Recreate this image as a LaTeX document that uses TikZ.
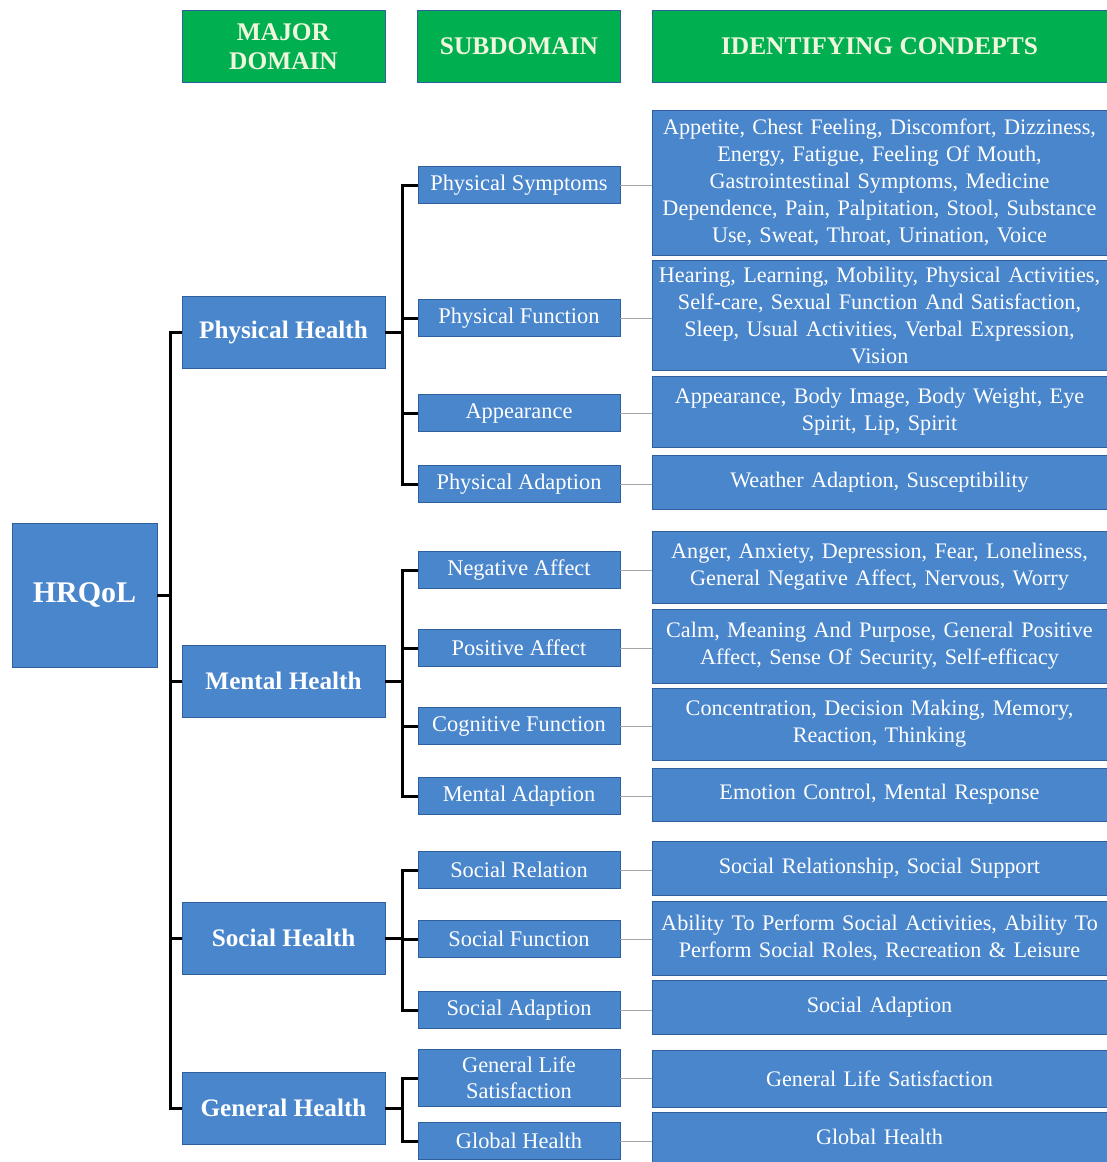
\documentclass[tikz,border=0pt]{standalone}
\usepackage{fontspec}
\setmainfont{Liberation Serif}
\usetikzlibrary{positioning}
\definecolor{hdrgreen}{RGB}{0,176,80}
\definecolor{boxblue}{RGB}{74,134,204}
\definecolor{boxedge}{RGB}{46,96,158}
\definecolor{hdrtext}{RGB}{240,246,222}
\definecolor{linkgray}{RGB}{165,165,165}
\tikzset{
  hdr/.style={draw=boxedge, fill=hdrgreen, text=hdrtext, minimum width=101.5pt,
              minimum height=36pt, align=center, inner sep=1pt,
              font=\bfseries\fontsize{12.7}{14.5}\selectfont},
  rootbox/.style={draw=boxedge, fill=boxblue, text=white, minimum width=72.5pt,
              minimum height=72pt, font=\bfseries\fontsize{15}{17}\selectfont},
  dom/.style={draw=boxedge, fill=boxblue, text=white, minimum width=101.5pt,
              minimum height=36pt, font=\bfseries\fontsize{12.6}{14.5}\selectfont},
  sub/.style={draw=boxedge, fill=boxblue, text=white, minimum width=101pt,
              minimum height=18.5pt, align=center, inner sep=1pt,
              font=\fontsize{11.2}{13}\selectfont},
  cpt/.style={draw=boxedge, fill=boxblue, text=white, minimum width=227.5pt,
              text width=225pt, align=center, inner sep=1pt,
              font=\fontsize{11.1}{13.5}\selectfont},
  tree/.style={black, line width=1.5pt},
  link/.style={linkgray, line width=0.5pt},
}

\begin{document}
\begin{tikzpicture}[x=0.5pt, y=-0.5pt]
  \useasboundingbox (0,0) rectangle (1107,1162);
  % column headers
  \node[hdr] (hmaj) at (283.5,46.5) {MAJOR\\DOMAIN};
  \node[hdr] (hsub) at (519,46) {SUBDOMAIN};
  \node[hdr, minimum width=227.5pt] (hcon) at (879.5,46) {IDENTIFYING CONDEPTS};

  % root and major domains
  \node[rootbox] (hrqol) at (84.5,595) {HRQoL};
  \node[dom] (phys) at (283.5,332) {Physical Health};
  \node[dom] (ment) at (283.5,681) {Mental Health};
  \node[dom] (soc)  at (283.5,938) {Social Health};
  \node[dom] (gen)  at (283.5,1108) {General Health};

  % subdomains
  \node[sub] (psym) at (519,185) {Physical Symptoms};
  \node[sub] (pfun) at (519,318) {Physical Function};
  \node[sub] (appr) at (519,413) {Appearance};
  \node[sub] (padp) at (519,484) {Physical Adaption};
  \node[sub] (neg)  at (519,570) {Negative Affect};
  \node[sub] (pos)  at (519,648) {Positive Affect};
  \node[sub] (cog)  at (519,726) {Cognitive Function};
  \node[sub] (madp) at (519,796) {Mental Adaption};
  \node[sub] (srel) at (519,870) {Social Relation};
  \node[sub] (sfun) at (519,939) {Social Function};
  \node[sub] (sadp) at (519,1010) {Social Adaption};
  \node[sub, minimum height=28.5pt, font=\fontsize{11.2}{12.8}\selectfont] (gls) at (519,1078) {General Life\\Satisfaction};
  \node[sub] (glob) at (519,1141) {Global Health};

  % identifying concepts
  \node[cpt, minimum height=72.5pt] (psymc) at (879.5,182.5) {Appetite, Chest Feeling, Discomfort, Dizziness,\\ Energy, Fatigue, Feeling Of Mouth,\\ Gastrointestinal Symptoms, Medicine\\ Dependence, Pain, Palpitation, Stool, Substance\\ Use, Sweat, Throat, Urination, Voice};
  \node[cpt, minimum height=55pt] (pfunc) at (879.5,315) {Hearing, Learning, Mobility, Physical Activities,\\ Self-care, Sexual Function And Satisfaction,\\ Sleep, Usual Activities, Verbal Expression,\\ Vision};
  \node[cpt, minimum height=35.5pt] (apprc) at (879.5,411.5) {Appearance, Body Image, Body Weight, Eye\\ Spirit, Lip, Spirit};
  \node[cpt, minimum height=27pt] (padpc) at (879.5,482) {Weather Adaption, Susceptibility};
  \node[cpt, minimum height=36pt] (negc) at (879.5,567) {Anger, Anxiety, Depression, Fear, Loneliness,\\ General Negative Affect, Nervous, Worry};
  \node[cpt, minimum height=37pt] (posc) at (879.5,646) {Calm, Meaning And Purpose, General Positive\\ Affect, Sense Of Security, Self-efficacy};
  \node[cpt, minimum height=36pt] (cogc) at (879.5,724) {Concentration, Decision Making, Memory,\\ Reaction, Thinking};
  \node[cpt, minimum height=26.5pt] (madpc) at (879.5,794.5) {Emotion Control, Mental Response};
  \node[cpt, minimum height=27pt] (srelc) at (879.5,868) {Social Relationship, Social Support};
  \node[cpt, minimum height=37pt] (sfunc) at (879.5,938) {Ability To Perform Social Activities, Ability To\\ Perform Social Roles, Recreation \& Leisure};
  \node[cpt, minimum height=27pt] (sadpc) at (879.5,1007) {Social Adaption};
  \node[cpt, minimum height=28.5pt] (glsc) at (879.5,1078.5) {General Life Satisfaction};
  \node[cpt, minimum height=25pt] (globc) at (879.5,1137) {Global Health};

  % tree connectors
  \foreach \d in {phys,ment,soc,gen}
    \draw[tree] (hrqol.east) -- ++(6.5pt,0) |- (\d.west);
  \foreach \s in {psym,pfun,appr,padp}
    \draw[tree] (phys.east) -- ++(8.5pt,0) |- (\s.west);
  \foreach \s in {neg,pos,cog,madp}
    \draw[tree] (ment.east) -- ++(8.5pt,0) |- (\s.west);
  \foreach \s in {srel,sfun,sadp}
    \draw[tree] (soc.east) -- ++(8.5pt,0) |- (\s.west);
  \foreach \s in {gls,glob}
    \draw[tree] (gen.east) -- ++(8.5pt,0) |- (\s.west);

  % subdomain to concepts
  \foreach \s in {psym,pfun,appr,padp,neg,pos,cog,madp,srel,sfun,sadp,gls,glob}
    \draw[link] (\s.east) -- (\s.east -| \s c.west);
\end{tikzpicture}
\end{document}
